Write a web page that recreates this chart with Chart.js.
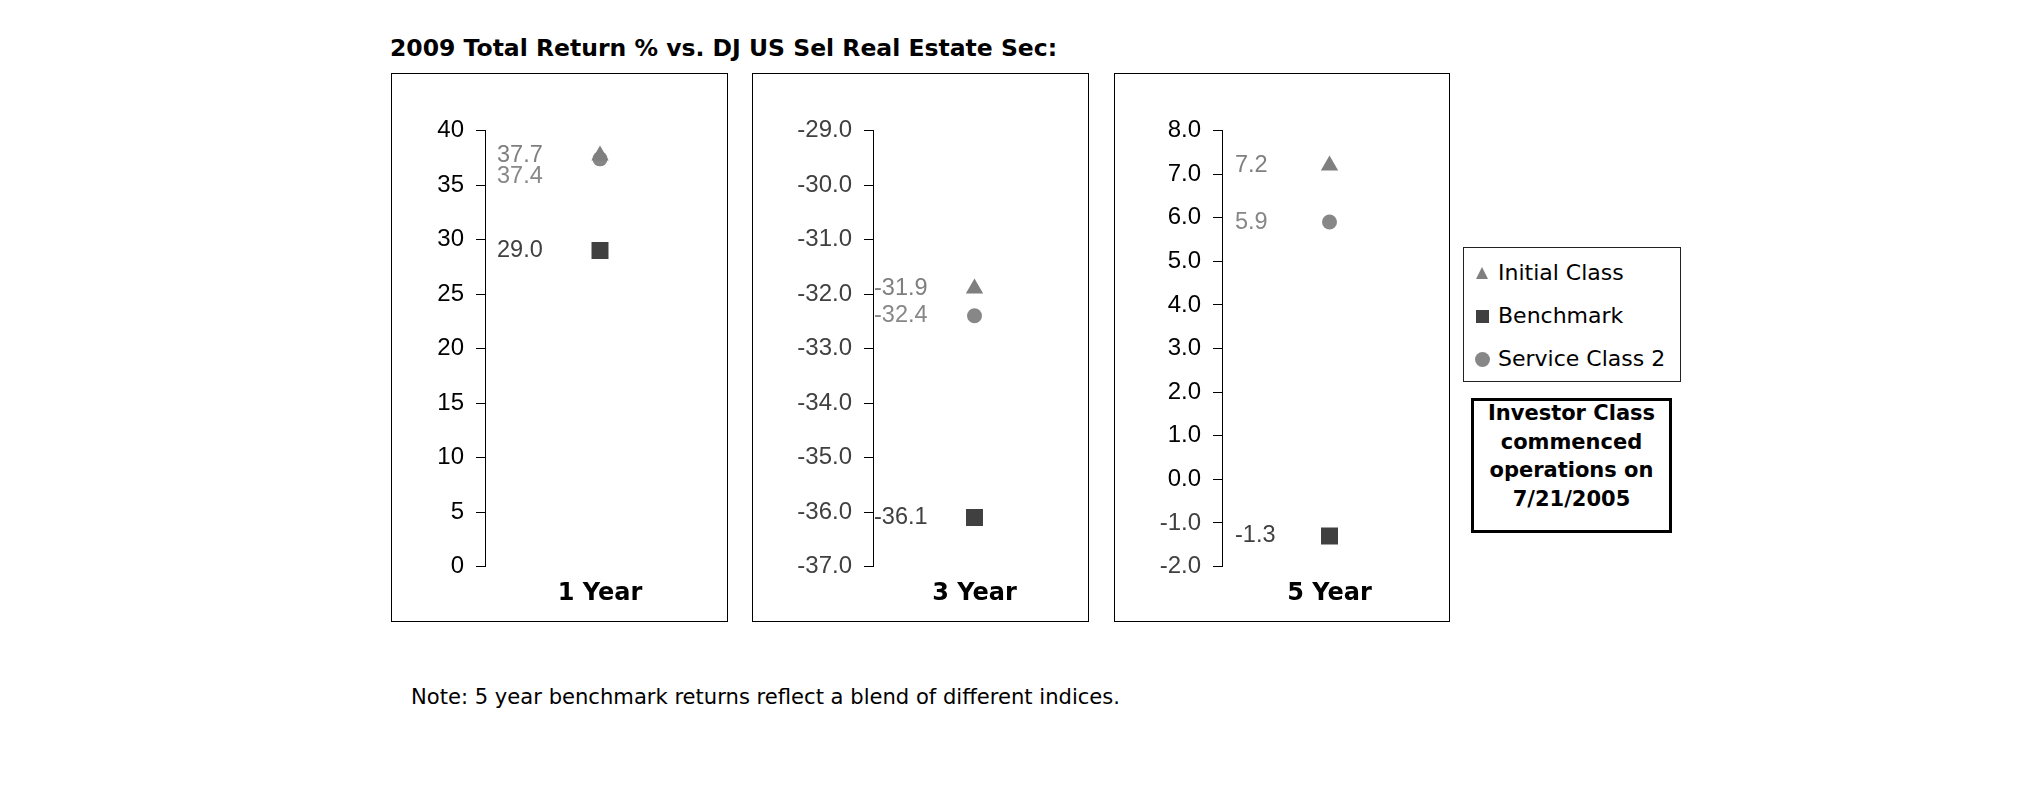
<!DOCTYPE html>
<html>
<head>
<meta charset="utf-8">
<title>2009 Total Return % vs. DJ US Sel Real Estate Sec</title>
<script src="https://cdn.jsdelivr.net/npm/chart.js@4.4.1/dist/chart.umd.min.js"></script>
<style>
  body { margin: 0; background: #fff; }
  #page { position: relative; width: 2025px; height: 806px; background: #fff; overflow: hidden; }
  .panel { position: absolute; top: 73px; height: 549px; border: 1px solid #000; box-sizing: border-box; }
  .panel canvas { display: block; }
  #title { position: absolute; left: 390px; top: 37px; font: bold 23.5px "DejaVu Sans", Verdana, sans-serif; line-height: 1; white-space: nowrap; color: #000; }
  #legend { position: absolute; left: 1463px; top: 247px; width: 218px; height: 135px; border: 1px solid #222; box-sizing: border-box; }
  .item { position: absolute; left: 0; height: 30px; width: 100%; font: 22px "DejaVu Sans", Verdana, sans-serif; line-height: 30px; color: #000; }
  .item span.txt { position: absolute; left: 34px; top: 0; white-space: nowrap; }
  .mark { position: absolute; }
  #investor { position: absolute; left: 1471px; top: 398px; width: 201px; height: 135px; border: 3px solid #000; box-sizing: border-box; }
  #investor div { position: absolute; left: 0; top: -2px; width: 100%; text-align: center; font: bold 21px "DejaVu Sans", Verdana, sans-serif; line-height: 28.5px; color: #000; }
  #note { position: absolute; left: 411px; top: 686px; font: 21.1px "DejaVu Sans", Verdana, sans-serif; line-height: 1; white-space: nowrap; color: #000; }
</style>
</head>
<body>
<div id="page">
  <div id="title">2009 Total Return % vs. DJ US Sel Real Estate Sec:</div>
  <div id="legend"></div>
  <div id="investor"><div>Investor Class<br>commenced<br>operations on<br>7/21/2005</div></div>
  <div id="note">Note: 5 year benchmark returns reflect a blend of different indices.</div>
</div>
<script>
// values
const periods = ['1 Year', '3 Year', '5 Year'];
const seriesNames = ['Initial Class', 'Benchmark', 'Service Class 2'];
const initialClass = [37.7, -31.9, 7.2];
const benchmark = [29.0, -36.1, -1.3];
const serviceClass2 = [37.4, -32.4, 5.9];

// axis ranges per panel
const yMin = [0, -37, -2];
const yMax = [40, -29, 8];
const yStep = [5, 1, 1];
const tickDecimals = [0, 1, 1];

// look
const seriesColors = ['#7f7f7f', '#404040', '#878787'];
const seriesShapes = ['triangle', 'rect', 'circle'];
const pointSizes = [10, 12, 7.5];

const panels = [
    { left: 391, width: 337, axisX: 93, padRight: 8, labelGap: 12 },
    { left: 752, width: 337, axisX: 120, padRight: 7, labelGap: 1 },
    { left: 1114, width: 336, axisX: 107, padRight: 7, labelGap: 13 }
];

const tickFont = { family: '"Liberation Sans", Arial, sans-serif', size: 24 };

// numbers written next to the axis, pushed apart when they would overlap
const valueLabels = {
    id: 'valueLabels',
    afterDatasetsDraw(chart, args, opts) {
        const ctx = chart.ctx;
        const items = chart.data.datasets.map((ds, s) => ({
            y: chart.getDatasetMeta(s).data[0].y,
            text: ds.data[0].toFixed(1),
            color: ds.borderColor
        })).sort((a, b) => a.y - b.y);
        for (let k = 1; k < items.length; k++) {
            if (items[k].y - items[k - 1].y < 21) {
                items[k].y = items[k - 1].y + 21;
            }
        }
        ctx.save();
        ctx.font = '23.5px "Liberation Sans", Arial, sans-serif';
        ctx.textBaseline = 'middle';
        ctx.textAlign = 'left';
        items.forEach(it => {
            ctx.fillStyle = it.color;
            ctx.fillText(it.text, chart.chartArea.left + opts.gap, it.y);
        });
        ctx.restore();
    }
};

const page = document.getElementById('page');

periods.forEach((period, i) => {
    const p = panels[i];
    const values = [initialClass[i], benchmark[i], serviceClass2[i]];

    const box = document.createElement('div');
    box.className = 'panel';
    box.style.left = p.left + 'px';
    box.style.width = p.width + 'px';
    const canvas = document.createElement('canvas');
    canvas.width = p.width - 2;
    canvas.height = 547;
    box.appendChild(canvas);
    page.appendChild(box);

    new Chart(canvas, {
        type: 'line',
        data: {
            labels: [period],
            datasets: seriesNames.map((name, s) => ({
                label: name,
                data: [values[s]],
                showLine: false,
                pointStyle: seriesShapes[s],
                pointRadius: pointSizes[s],
                pointHoverRadius: pointSizes[s],
                pointBorderWidth: 0,
                backgroundColor: seriesColors[s],
                borderColor: seriesColors[s]
            }))
        },
        options: {
            responsive: false,
            animation: false,
            events: [],
            layout: { padding: { top: 56.5, right: p.padRight, left: 0, bottom: 0 } },
            plugins: {
                legend: { display: false },
                tooltip: { enabled: false },
                valueLabels: { gap: p.labelGap }
            },
            scales: {
                x: {
                    type: 'category',
                    offset: true,
                    grid: { display: false, drawTicks: false },
                    border: { display: false },
                    ticks: {
                        font: { family: '"DejaVu Sans", Verdana, sans-serif', size: 24, weight: 'bold' },
                        color: '#000',
                        padding: 13
                    },
                    afterFit: scale => { scale.height = 54.5; }
                },
                y: {
                    min: yMin[i],
                    max: yMax[i],
                    ticks: {
                        stepSize: yStep[i],
                        callback: v => v.toFixed(tickDecimals[i]),
                        font: tickFont,
                        color: ctx => ctx.tick.value < 0 ? '#404040' : '#000',
                        padding: 12
                    },
                    grid: { drawOnChartArea: false, drawTicks: true, tickLength: 9, color: '#000', lineWidth: 1 },
                    border: { display: true, color: '#000', width: 1 },
                    afterFit: scale => { scale.width = p.axisX; }
                }
            }
        },
        plugins: [valueLabels]
    });
});

// legend built from the same series arrays
const legend = document.getElementById('legend');
const legendY = [10, 53, 96];
seriesNames.forEach((name, s) => {
    const item = document.createElement('div');
    item.className = 'item';
    item.style.top = legendY[s] + 'px';
    const mark = document.createElement('div');
    mark.className = 'mark';
    if (seriesShapes[s] === 'triangle') {
        mark.style.cssText = 'left:12px;top:9px;width:0;height:0;border-left:6.5px solid transparent;border-right:6.5px solid transparent;border-bottom:12px solid ' + seriesColors[s];
    } else if (seriesShapes[s] === 'rect') {
        mark.style.cssText = 'left:12px;top:8.5px;width:13px;height:13px;background:' + seriesColors[s];
    } else {
        mark.style.cssText = 'left:11px;top:7.5px;width:15px;height:15px;border-radius:50%;background:' + seriesColors[s];
    }
    const txt = document.createElement('span');
    txt.className = 'txt';
    txt.textContent = name;
    item.appendChild(mark);
    item.appendChild(txt);
    legend.appendChild(item);
});
</script>
</body>
</html>
